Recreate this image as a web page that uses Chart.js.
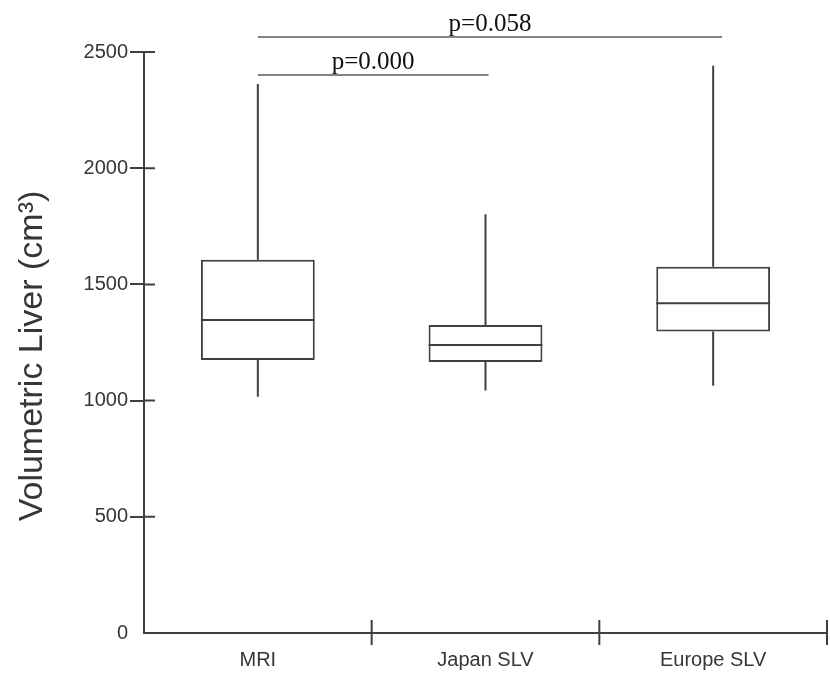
<!DOCTYPE html>
<html>
<head>
<meta charset="utf-8">
<script src="https://cdn.jsdelivr.net/npm/chart.js@4/dist/chart.umd.min.js"></script>
<style>
  html, body { margin: 0; padding: 0; background: #fff; }
  #wrap { width: 830px; height: 673px; }
</style>
</head>
<body>
<div id="wrap"><canvas id="boxChart"></canvas></div>
<script>
// box plot values (cm3)
var groups = ['MRI', 'Japan SLV', 'Europe SLV'];
var whiskerLow = [1017, 1043, 1064];
var quartile1 = [1175, 1166, 1297];
var medians = [1347, 1239, 1419];
var quartile3 = [1606, 1325, 1576];
var whiskerHigh = [2362, 1802, 2441];

// significance brackets
var bracketPairs = [[0, 1], [0, 2]];
var bracketLabels = ['p=0.000', 'p=0.058'];

var lineColor = '#404040';
var textColor = '#363636';

var boxExtras = {
    id: 'boxExtras',
    afterDatasetsDraw: function(chart, args, opts) {
        var ctx = chart.ctx;
        var y = chart.scales.y;
        var x = chart.scales.x;
        var area = chart.chartArea;
        var meta = chart.getDatasetMeta(0);

        ctx.save();
        ctx.strokeStyle = lineColor;
        ctx.lineWidth = 2;
        ctx.lineCap = 'butt';

        // whiskers and medians
        meta.data.forEach(function(bar, i) {
            var half = bar.width / 2;
            ctx.beginPath();
            ctx.moveTo(bar.x, y.getPixelForValue(quartile3[i]));
            ctx.lineTo(bar.x, y.getPixelForValue(whiskerHigh[i]));
            ctx.moveTo(bar.x, y.getPixelForValue(quartile1[i]));
            ctx.lineTo(bar.x, y.getPixelForValue(whiskerLow[i]));
            ctx.moveTo(bar.x - half, y.getPixelForValue(medians[i]));
            ctx.lineTo(bar.x + half, y.getPixelForValue(medians[i]));
            ctx.stroke();
        });

        // y tick marks inside the axis
        ctx.beginPath();
        y.ticks.forEach(function(t) {
            if (t.value === 0) return;
            var py = y.getPixelForValue(t.value);
            ctx.moveTo(area.left, py);
            ctx.lineTo(area.left + 11, py);
        });
        // x tick marks between categories and at the end
        for (var k = 1; k <= groups.length; k++) {
            var px = area.left + (area.right - area.left) * k / groups.length;
            ctx.moveTo(px, area.bottom - 13);
            ctx.lineTo(px, area.bottom + 12);
        }
        ctx.stroke();

        // brackets with p values
        ctx.strokeStyle = '#5a5a5a';
        ctx.lineWidth = 1.5;
        ctx.fillStyle = '#111';
        ctx.font = '25px "Liberation Serif", "Times New Roman", serif';
        ctx.textAlign = 'center';
        ctx.textBaseline = 'alphabetic';
        bracketPairs.forEach(function(pair, i) {
            var x1 = x.getPixelForValue(pair[0]);
            var x2 = x.getPixelForValue(pair[1]) + opts.overhang[i];
            var py = y.getPixelForValue(opts.levels[i]);
            ctx.beginPath();
            ctx.moveTo(x1, py);
            ctx.lineTo(x2, py);
            ctx.stroke();
            ctx.fillText(bracketLabels[i], (x1 + x2) / 2, py - 6);
        });

        // y axis title
        ctx.translate(33, 356);
        ctx.rotate(-Math.PI / 2);
        ctx.fillStyle = textColor;
        ctx.font = '34px "Liberation Sans", Arial, sans-serif';
        ctx.textBaseline = 'middle';
        ctx.fillText('Volumetric Liver (cm\u00B3)', 0, 0);
        ctx.restore();
    }
};

var boxChart = new Chart(document.getElementById('boxChart'), {
    type: 'bar',
    data: {
        labels: groups,
        datasets: [{
            data: quartile1.map(function(v, i) { return [v, quartile3[i]]; }),
            backgroundColor: '#ffffff',
            borderColor: lineColor,
            borderWidth: 2,
            borderSkipped: false,
            barPercentage: 0.5,
            categoryPercentage: 1
        }]
    },
    options: {
        responsive: true,
        maintainAspectRatio: false,
        animation: false,
        layout: { padding: { top: 52, right: 3, bottom: 0, left: 0 } },
        plugins: {
            legend: { display: false },
            tooltip: { enabled: false },
            boxExtras: { levels: [2401, 2565], overhang: [3, 9] }
        },
        scales: {
            x: {
                afterFit: function(scale) { scale.height = 40; },
                grid: { display: false },
                border: { display: true, color: lineColor, width: 2 },
                ticks: {
                    color: textColor,
                    padding: 7,
                    font: { family: '"Liberation Sans", Arial, sans-serif', size: 20 }
                }
            },
            y: {
                min: 0,
                max: 2500,
                afterFit: function(scale) { scale.width = 144; },
                grid: {
                    drawOnChartArea: false,
                    drawTicks: true,
                    tickLength: 14,
                    lineWidth: 2,
                    color: function(c) { return c.tick && c.tick.value === 0 ? 'rgba(0,0,0,0)' : lineColor; }
                },
                border: { display: true, color: lineColor, width: 2 },
                ticks: {
                    stepSize: 500,
                    padding: 2,
                    color: textColor,
                    callback: function(value) { return String(value); },
                    font: { family: '"Liberation Sans", Arial, sans-serif', size: 20 }
                }
            }
        }
    },
    plugins: [boxExtras]
});
</script>
</body>
</html>
